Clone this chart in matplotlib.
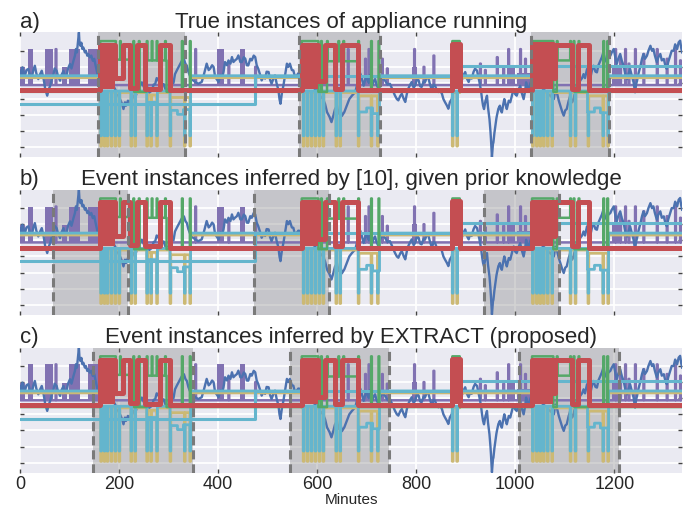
import numpy as np
import matplotlib
matplotlib.use("Agg")
import matplotlib.pyplot as plt

# ------------------------------------------------------------------ data
T_MAX = 1337

# aggregate (blue) signal: (minute, value)
blue_points = [
    (0, 4.76), (3, 4.5), (5, 4.97), (8, 4.6), (10, 4.45), (13, 4.8), (17, 4.87), (20, 4.5),
    (24, 4.35), (27, 4.8), (30, 5.07), (33, 4.6), (37, 4.24), (40, 4.5), (44, 4.76), (48, 4.2),
    (51, 3.62), (55, 3.21), (58, 3.6), (61, 3.83), (64, 4.2), (67, 4.45), (70, 4.9), (74, 4.76),
    (77, 4.4), (81, 4.14), (84, 4.5), (88, 4.76), (91, 4.3), (94, 4.45), (97, 4.9), (101, 5.18),
    (104, 4.9), (108, 5.38), (111, 5.7), (113, 6.11), (115, 5.9), (117, 6.52), (119, 7.14),
    (120, 6.6), (122, 6.31), (124, 6.5), (126, 6.11), (128, 6.2), (131, 5.9), (133, 6.0),
    (136, 5.69), (138, 5.8), (141, 5.59), (144, 5.7), (147, 5.38), (150, 5.5), (152, 5.18),
    (155, 4.76), (158, 4.35), (162, 4.45), (166, 4.2), (170, 4.4), (175, 4.04), (180, 3.8),
    (185, 4.0), (192, 3.62), (197, 3.3), (202, 3.0), (206, 2.7), (209, 2.38), (212, 2.8),
    (214, 2.59), (218, 2.9), (222, 2.8), (226, 3.1), (229, 3.21), (232, 3.0), (236, 3.42),
    (241, 3.8), (246, 4.04), (251, 3.7), (256, 3.83), (261, 3.4), (266, 3.52), (270, 3.9),
    (273, 3.93), (276, 4.3), (279, 4.24), (284, 3.8), (290, 3.93), (295, 3.5), (300, 3.62),
    (303, 4.0), (306, 4.24), (310, 4.0), (313, 4.55), (317, 4.8), (320, 4.97), (324, 5.2),
    (327, 5.38), (331, 5.49), (334, 5.2), (337, 5.07), (340, 4.7), (343, 4.45), (348, 4.2),
    (354, 4.06), (360, 3.95), (367, 4.06), (372, 4.6), (377, 5.2), (381, 4.8), (384, 4.89),
    (388, 5.1), (391, 4.99), (394, 4.37), (398, 4.2), (401, 4.06), (405, 4.5), (408, 4.3),
    (411, 4.68), (414, 5.3), (418, 5.1), (421, 5.4), (425, 5.2), (428, 5.61), (431, 5.3),
    (434, 5.4), (438, 5.5), (441, 5.71), (445, 5.3), (448, 5.3), (452, 5.6), (455, 5.5),
    (458, 5.1), (461, 5.09), (465, 5.5), (468, 5.4), (472, 5.7), (475, 5.61), (478, 5.1),
    (481, 4.89), (485, 4.5), (488, 4.16), (492, 4.4), (495, 4.27), (498, 4.7), (502, 4.68),
    (505, 4.2), (508, 3.95), (512, 4.3), (515, 4.47), (518, 4.0), (522, 3.54), (524, 3.0),
    (526, 2.71), (529, 3.4), (532, 3.85), (536, 4.6), (539, 5.2), (542, 5.0), (545, 5.2),
    (549, 4.8), (552, 4.78), (555, 4.4), (559, 4.47), (562, 4.6), (566, 4.58), (575, 4.3),
    (586, 4.0), (596, 3.6), (602, 3.44), (606, 3.2), (612, 3.0), (616, 2.7), (620, 2.19),
    (625, 1.9), (629, 1.57), (633, 2.0), (636, 2.36), (640, 2.6), (643, 2.1), (647, 2.4),
    (650, 1.95), (655, 2.2), (660, 2.6), (665, 3.0), (670, 3.2), (677, 3.44), (680, 3.8),
    (684, 4.1), (687, 4.6), (690, 4.3), (694, 3.83), (697, 4.2), (700, 4.35), (704, 4.0),
    (707, 4.5), (711, 3.83), (714, 4.1), (717, 4.24), (720, 3.9), (724, 3.62), (727, 4.06),
    (732, 4.3), (737, 4.16), (742, 3.9), (747, 3.95), (752, 3.6), (757, 3.23), (761, 3.0),
    (764, 2.92), (768, 3.2), (771, 3.33), (775, 3.0), (778, 2.82), (781, 3.3), (784, 3.64),
    (788, 3.9), (791, 4.06), (795, 3.7), (798, 3.85), (802, 4.3), (805, 4.16), (808, 3.8),
    (811, 3.75), (815, 4.1), (818, 4.06), (822, 4.4), (825, 4.27), (828, 3.9), (832, 3.54),
    (835, 3.9), (838, 3.85), (842, 3.5), (845, 3.44), (849, 3.5), (852, 3.33), (855, 3.0),
    (858, 2.82), (862, 2.6), (865, 2.4), (868, 2.8), (872, 3.02), (875, 3.6), (878, 4.06),
    (882, 4.3), (885, 4.47), (889, 4.3), (892, 4.16), (896, 4.5), (899, 4.68), (902, 4.3),
    (906, 4.06), (909, 4.4), (912, 4.27), (916, 4.7), (919, 4.89), (923, 4.76), (926, 4.3),
    (928, 4.04), (931, 3.5), (933, 3.0), (935, 2.6), (937, 2.38), (940, 2.9), (943, 3.21),
    (945, 2.5), (948, 1.76), (950, 1.0), (951, 0.52), (953, -0.60), (955, 0.2), (956, 0.31),
    (958, 0.9), (960, 1.35), (962, 1.8), (963, 1.97), (966, 2.4), (969, 2.59), (971, 2.3),
    (973, 2.17), (976, 2.7), (978, 3.0), (981, 2.6), (983, 2.38), (987, 2.9), (990, 2.8),
    (994, 3.3), (997, 3.62), (1000, 3.3), (1003, 3.21), (1007, 3.6), (1010, 3.83), (1013, 3.4),
    (1017, 3.0), (1020, 3.5), (1022, 4.04), (1025, 3.7), (1027, 3.62), (1031, 4.0),
    (1034, 4.24), (1042, 4.0), (1050, 3.83), (1057, 3.6), (1064, 3.42), (1071, 3.2),
    (1078, 3.0), (1081, 3.6), (1084, 3.42), (1088, 2.9), (1091, 2.59), (1095, 2.2),
    (1098, 1.97), (1101, 2.3), (1104, 2.38), (1108, 2.9), (1111, 3.21), (1115, 2.8),
    (1118, 3.0), (1121, 3.5), (1125, 3.83), (1128, 3.6), (1131, 4.14), (1135, 4.3),
    (1138, 4.55), (1141, 4.3), (1145, 4.87), (1148, 4.6), (1152, 4.35), (1155, 4.8),
    (1158, 5.07), (1162, 4.7), (1165, 4.66), (1168, 5.1), (1172, 5.38), (1175, 5.6),
    (1178, 5.9), (1181, 5.5), (1185, 5.28), (1188, 5.6), (1192, 5.69), (1195, 5.9),
    (1199, 6.11), (1202, 5.6), (1205, 5.18), (1208, 5.5), (1212, 5.8), (1215, 5.4),
    (1219, 5.07), (1222, 4.6), (1226, 4.24), (1229, 4.6), (1232, 4.87), (1235, 4.5),
    (1239, 4.04), (1242, 3.42), (1244, 3.9), (1246, 4.14), (1249, 4.6), (1253, 5.07),
    (1256, 5.5), (1259, 5.8), (1262, 5.5), (1266, 5.69), (1269, 6.0), (1273, 6.31),
    (1276, 6.0), (1279, 6.11), (1282, 5.7), (1286, 5.28), (1289, 5.6), (1293, 5.8),
    (1296, 5.4), (1300, 5.49), (1303, 5.1), (1306, 4.87), (1309, 5.3), (1313, 5.69),
    (1316, 6.0), (1320, 6.0), (1323, 6.4), (1327, 6.11), (1330, 6.52), (1333, 6.63),
    (1335, 6.2), (1337, 5.9)]
blue_t = [p[0] for p in blue_points]
blue_v = [p[1] for p in blue_points]

# red appliance: step changes (minute, level) and dense "on" blocks
red_t = [0, 162, 192, 209, 222, 236, 253, 283, 303, 569, 601, 615, 636, 650, 683, 873, 888,
         1034, 1077, 1081, 1114, 1127, 1148, T_MAX]
red_v = [3.55, 6.35, 4.30, 6.35, 3.70, 6.35, 3.65, 6.35, 3.55, 6.35, 4.10, 6.35, 3.65, 6.35,
         3.55, 6.45, 3.55, 6.40, 4.30, 6.35, 3.65, 6.35, 3.55, 3.55]
red_blocks = [(162, 192), (569, 601), (873, 888), (1034, 1077)]

# green appliance: base segments and spikes
green_segments = [(162, 192, 6.6), (192, 229, 5.45), (256, 296, 5.4), (569, 601, 6.6),
                  (620, 683, 5.35), (873, 888, 6.6), (1034, 1077, 6.6), (1084, 1118, 5.4)]
green_spikes = [192, 202, 229, 240, 256, 266, 276, 293, 327, 343, 601, 608, 620, 643, 653,
                683, 709, 724, 1064, 1071, 1084, 1111, 1118, 1128, 1178, 1186]

# purple appliance
purple_blocks = [(0, 10, 4.97), (17, 27, 6.1), (50, 67, 6.1), (84, 94, 4.97), (99, 121, 6.1),
                 (137, 160, 6.1), (398, 411, 6.1), (445, 455, 6.1), (791, 801, 5.0),
                 (983, 1000, 4.97), (1003, 1030, 4.6), (1195, 1215, 5.07)]
purple_spikes = [(72, 6.1), (354, 6.1), (421, 5.2), (475, 5.0), (662, 6.1), (697, 5.5),
                 (704, 6.1), (731, 5.5), (741, 4.9), (796, 6.1), (815, 5.0), (835, 5.7),
                 (929, 5.2), (939, 4.8), (963, 5.6), (976, 4.9), (986, 6.1), (1010, 6.1),
                 (1020, 5.5), (1202, 6.1), (1212, 5.5), (1222, 6.1), (1229, 5.2), (1242, 6.1),
                 (1259, 5.8), (1286, 6.1), (1306, 5.5), (1323, 6.1), (1333, 5.4)]

# cyan / yellow appliances: active windows, plateaus and dips
active_windows = [(162, 343), (569, 726), (873, 888), (1034, 1187)]
plateaus_cyan = [(256, 276, 2.8), (303, 318, 2.3), (318, 330, 2.05), (330, 343, 2.35),
                 (683, 700, 2.2), (700, 712, 2.45), (712, 726, 2.1),
                 (1146, 1160, 2.2), (1160, 1172, 2.45), (1172, 1187, 2.15)]
plateaus_yellow = [(256, 276, 3.25), (303, 343, 3.1), (683, 726, 3.2), (1146, 1187, 3.2)]
dip_times = [163, 170, 176, 184, 192, 200, 224, 232, 256, 264, 276, 303, 332, 343,
             572, 580, 588, 596, 604, 612, 638, 646, 683, 709, 722, 873, 882,
             1035, 1043, 1050, 1057, 1065, 1074, 1111, 1121, 1147, 1177, 1187]
cyan2_t = [0, 475, 885, T_MAX]
cyan2_v = [2.69, 4.45, 5.05, 5.05]

titles = ["True instances of appliance running",
          "Event instances inferred by [10], given prior knowledge",
          "Event instances inferred by EXTRACT (proposed)"]
labels = ["a)", "b)", "c)"]
shaded = [[(158, 333), (564, 726), (1032, 1189)],
          [(66, 219), (473, 624), (936, 1088)],
          [(148, 350), (545, 746), (1007, 1209)]]
xticks = [0, 200, 400, 600, 800, 1000, 1200]

# ------------------------------------------------------------------ helpers
RES = 0.5
tg = np.arange(0, T_MAX + RES, RES)


def levels(default, segments=(), pulses=(), width=1.5):
    y = np.full(tg.shape, default, dtype=float)
    for a, b, v in segments:
        y[(tg >= a) & (tg < b)] = v
    for t0, v in pulses:
        y[(tg >= t0) & (tg < t0 + width)] = v
    return y


C_BLUE, C_GREEN, C_RED = "#4C72B0", "#55A868", "#C44E52"
C_PURPLE, C_YELLOW, C_CYAN = "#8172B2", "#CCB974", "#64B5CD"

win_cyan = [(a, b, 3.5) for a, b in active_windows] + plateaus_cyan
win_yel = [(a, b, 3.4) for a, b in active_windows] + plateaus_yellow
cyan_y = levels(4.45, win_cyan, [(t, 0.72) for t in dip_times])
yel_y = levels(4.33, win_yel, [(t, 0.08) for t in dip_times])
green_y = levels(3.45, green_segments, [(t, 6.6) for t in green_spikes])
purple_y = levels(3.87, [], purple_spikes)

plt.rcParams['font.family'] = ['Liberation Sans', 'DejaVu Sans']
fig = plt.figure(figsize=(6.89, 5.06), dpi=100)

bottoms = [0.687, 0.376, 0.064]
for i in range(3):
    ax = fig.add_axes([0.029, bottoms[i], 0.961, 0.247])
    ax.set_facecolor("#EAEAF2")
    for s in ax.spines.values():
        s.set_visible(False)
    ax.grid(True, color="white", lw=1.3, zorder=0.5)
    ax.set_axisbelow(True)

    for a, b in shaded[i]:
        ax.axvspan(a, b, facecolor="#808080", alpha=0.35, zorder=1, lw=0)
        for xb in (a, b):
            ax.axvline(xb, color="#7a7a7a", lw=2.2, ls=(0, (3, 1.6)), zorder=8)

    # purple
    for a, b, top in purple_blocks:
        m = (tg >= a) & (tg <= b)
        ax.fill_between(tg, 3.87, top, where=m, color=C_PURPLE, lw=0, zorder=2)
    ax.plot(tg, purple_y, color=C_PURPLE, lw=1.8, drawstyle="steps-post", zorder=2)
    # blue
    ax.plot(blue_t, blue_v, color=C_BLUE, lw=1.7, zorder=3)
    # yellow & cyan
    ax.plot(tg, yel_y, color=C_YELLOW, lw=2.0, drawstyle="steps-post", zorder=4)
    ax.plot(tg, cyan_y, color=C_CYAN, lw=2.0, drawstyle="steps-post", zorder=5)
    ax.plot(cyan2_t, cyan2_v, color=C_CYAN, lw=2.2, drawstyle="steps-post", zorder=5)
    # green
    ax.plot(tg, green_y, color=C_GREEN, lw=1.8, drawstyle="steps-post", zorder=6)
    # red
    for a, b in red_blocks:
        m = (tg >= a) & (tg <= b)
        ax.fill_between(tg, 3.65, 6.35, where=m, color=C_RED, lw=0, zorder=7)
    ax.plot(red_t, red_v, color=C_RED, lw=3.6, drawstyle="steps-post", zorder=7,
            solid_joinstyle="round")

    ax.set_xlim(0, T_MAX)
    ax.set_ylim(-0.62, 7.14)
    ax.set_xticks(xticks)
    ax.set_yticks(range(0, 7))
    ax.tick_params(direction="in", length=3, width=1, color="#444444", top=True,
                   right=True, labelleft=False, labelsize=13, labelcolor="#262626", pad=2)
    if i < 2:
        ax.tick_params(labelbottom=False)
    else:
        ax.set_xlabel("Minutes", fontsize=11, labelpad=0, color="#262626")
    ax.set_title(titles[i], fontsize=16, pad=4, color="#262626")
    ax.set_title(labels[i], fontsize=16, pad=4, loc="left", color="#262626")

fig.savefig("out.png", dpi=100)
